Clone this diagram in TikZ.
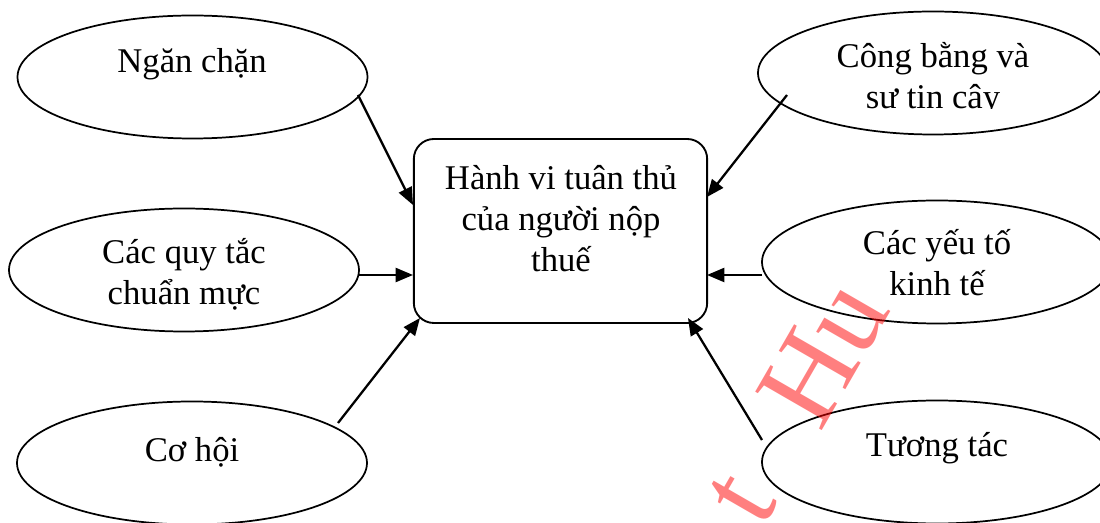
\documentclass[tikz,border=0pt]{standalone}
\usepackage{fontspec}
\setmainfont{Liberation Serif}
\usetikzlibrary{shapes.geometric,arrows.meta,calc}
\newcommand\mlines[1]{\begin{tabular}[t]{@{}c@{}}#1\end{tabular}}
\begin{document}
\begin{tikzpicture}[x=0.75pt,y=-0.75pt,
  oval/.style={draw, line width=1.3pt, ellipse, minimum width=262.5pt, minimum height=92.25pt, inner sep=0},
  mainbox/.style={draw, line width=1.4pt, rounded corners=15pt, minimum width=220pt, minimum height=138pt, inner sep=0},
  lbl/.style={inner sep=0, anchor=base, font=\fontsize{26}{30.5}\selectfont},
  arr/.style={line width=1.7pt, -{Triangle[length=13pt,width=10.5pt]}},
  wm/.style={text=red, text opacity=0.5, font=\fontsize{88}{88}\selectfont, inner sep=0, rotate=60, anchor=base west}]
\fill[white] (0,0) rectangle (1100,523);
\useasboundingbox (0,0) rectangle (1100,523);

% central box
\node[mainbox] (r) at (560.5,231) {};
\node[lbl] (rt) at (561,190) {\mlines{Hành vi tuân thủ\\của người nộp\\thuế}};

% ellipses
\node[oval] (e1) at (192.5,77) {};
\node[oval] (e2) at (184,270) {};
\node[oval] (e3) at (192,463) {};
\node[oval] (e4) at (933,73) {};
\node[oval] (e5) at (937,262) {};
\node[oval] (e6) at (937,462) {};

% labels
\node[lbl] (t1) at (192,73) {Ngăn chặn};
\node[lbl] (t2) at (184,264) {\mlines{Các quy tắc\\chuẩn mực}};
\node[lbl] (t3) at (192,462) {Cơ hội};
\begin{scope}
\clip (700,0) rectangle (1100,108.5);
\node[lbl] (t4) at (933,68) {\mlines{Công bằng và\\sư tin cây}};
\end{scope}
\node[lbl] (t5) at (937,255) {\mlines{Các yếu tố\\kinh tế}};
\node[lbl] (t6) at (937,457) {Tương tác};

% arrows
\draw[arr] ([shift={(165.5,18)}]e1.center) -- ([shift={(-147.5,-26)}]r.center);
\draw[arr] ([shift={(175,5)}]e2.center) -- ([shift={(-147.5,44)}]r.center);
\draw[arr] ([shift={(146,-40)}]e3.center) -- ([shift={(-140.5,87)}]r.center);
\draw[arr] ([shift={(-146,22)}]e4.center) -- ([shift={(146.5,-34)}]r.center);
\draw[arr] ([shift={(-175,13)}]e5.center) -- ([shift={(146.5,44)}]r.center);
\draw[arr] ([shift={(-175,-22)}]e6.center) -- ([shift={(127.5,87)}]r.center);

% watermark
\node[wm] (wmt) at (762,530) {t};
\node[wm] (wmh) at (820,434) {Hu};
\end{tikzpicture}
\end{document}
